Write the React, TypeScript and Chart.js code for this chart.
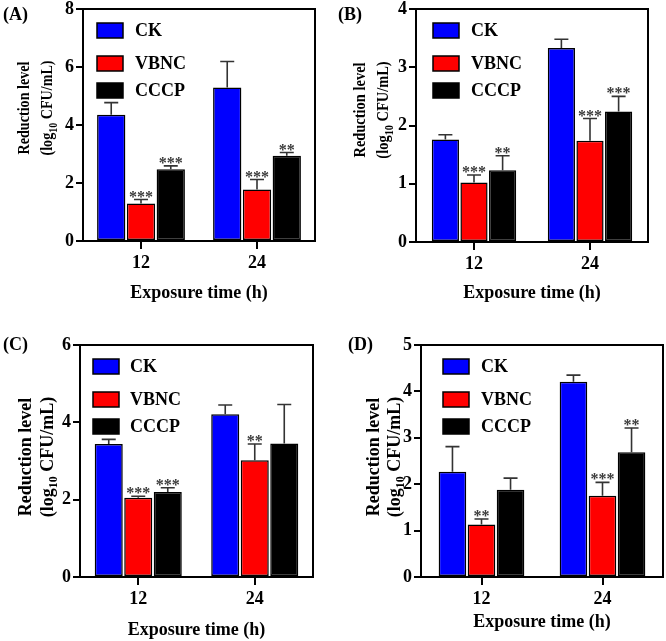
import React, { useEffect, useRef } from 'react';
import { Chart, registerables } from 'chart.js';

Chart.register(...registerables);

// ---------- data ----------
const categories = ['12', '24'];
const seriesNames = ['CK', 'VBNC', 'CCCP'];
const seriesColors = ['#0000FF', '#FF0000', '#000000'];
const panelLabels = ['(A)', '(B)', '(C)', '(D)'];
const xTitle = 'Exposure time (h)';
const yTitleLine1 = 'Reduction level';
const yTitleLine2 = ['(log', '10', ' CFU/mL)'];

// Panel A
const ckA = [4.35, 5.29];
const ckErrA = [0.42, 0.9];
const vbncA = [1.29, 1.78];
const vbncErrA = [0.14, 0.34];
const cccpA = [2.47, 2.94];
const cccpErrA = [0.12, 0.11];
const ckStarsA = ['', ''];
const vbncStarsA = ['***', '***'];
const cccpStarsA = ['***', '**'];
const yMaxA = 8;
const yStepA = 2;

// Panel B
const ckB = [1.76, 3.33];
const ckErrB = [0.08, 0.15];
const vbncB = [1.02, 1.74];
const vbncErrB = [0.13, 0.38];
const cccpB = [1.23, 2.24];
const cccpErrB = [0.25, 0.26];
const ckStarsB = ['', ''];
const vbncStarsB = ['***', '***'];
const cccpStarsB = ['**', '***'];
const yMaxB = 4;
const yStepB = 1;

// Panel C
const ckC = [3.44, 4.21];
const ckErrC = [0.12, 0.24];
const vbncC = [2.05, 3.02];
const vbncErrC = [0.04, 0.42];
const cccpC = [2.2, 3.45];
const cccpErrC = [0.11, 1.01];
const ckStarsC = ['', ''];
const vbncStarsC = ['***', '**'];
const cccpStarsC = ['***', ''];
const yMaxC = 6;
const yStepC = 2;

// Panel D
const ckD = [2.27, 4.21];
const ckErrD = [0.54, 0.14];
const vbncD = [1.13, 1.75];
const vbncErrD = [0.12, 0.29];
const cccpD = [1.88, 2.69];
const cccpErrD = [0.25, 0.52];
const ckStarsD = ['', ''];
const vbncStarsD = ['**', '***'];
const cccpStarsD = ['', '**'];
const yMaxD = 5;
const yStepD = 1;

const FONT = "'Liberation Serif', 'Times New Roman', serif";

type Panel = {
  label: string;
  values: number[][];
  errs: number[][];
  stars: string[][];
  yMax: number;
  yStep: number;
  cx: number; cy: number; w: number; h: number;
  L: number; R: number; T: number; B: number;
  catPct: number;
  legendDx: number;
  legendTextDx: number;
  yTitleSize: number;
  yTitleStretch: number;
  yT1x: number; yT2x: number; yTcy: number;
  xTitleY: number;
  labelX: number; labelY: number;
};

const panels: Panel[] = [
  {
    label: panelLabels[0],
    values: [ckA, vbncA, cccpA], errs: [ckErrA, vbncErrA, cccpErrA], stars: [ckStarsA, vbncStarsA, cccpStarsA],
    yMax: yMaxA, yStep: yStepA,
    cx: 0, cy: 0, w: 333, h: 320, L: 83, R: 315, T: 9, B: 241, catPct: 0.77,
    legendDx: 14, legendTextDx: 38, yTitleSize: 17, yTitleStretch: 0.83, yT1x: 25, yT2x: 48, yTcy: 108, xTitleY: 293, labelX: 3, labelY: 15,
  },
  {
    label: panelLabels[1],
    values: [ckB, vbncB, cccpB], errs: [ckErrB, vbncErrB, cccpErrB], stars: [ckStarsB, vbncStarsB, cccpStarsB],
    yMax: yMaxB, yStep: yStepB,
    cx: 333, cy: 0, w: 333, h: 320, L: 83, R: 315, T: 9, B: 242, catPct: 0.74,
    legendDx: 17, legendTextDx: 38, yTitleSize: 17, yTitleStretch: 0.85, yT1x: 28, yT2x: 51, yTcy: 110, xTitleY: 293, labelX: 5, labelY: 15,
  },
  {
    label: panelLabels[2],
    values: [ckC, vbncC, cccpC], errs: [ckErrC, vbncErrC, cccpErrC], stars: [ckStarsC, vbncStarsC, cccpStarsC],
    yMax: yMaxC, yStep: yStepC,
    cx: 0, cy: 320, w: 333, h: 321, L: 80, R: 313, T: 25, B: 257, catPct: 0.76,
    legendDx: 13, legendTextDx: 37, yTitleSize: 18, yTitleStretch: 1, yT1x: 26, yT2x: 48, yTcy: 137, xTitleY: 310, labelX: 3, labelY: 25,
  },
  {
    label: panelLabels[3],
    values: [ckD, vbncD, cccpD], errs: [ckErrD, vbncErrD, cccpErrD], stars: [ckStarsD, vbncStarsD, cccpStarsD],
    yMax: yMaxD, yStep: yStepD,
    cx: 333, cy: 320, w: 333, h: 321, L: 88, R: 330, T: 25, B: 257, catPct: 0.72,
    legendDx: 22, legendTextDx: 38, yTitleSize: 18, yTitleStretch: 1, yT1x: 41, yT2x: 62, yTcy: 137, xTitleY: 302, labelX: 15, labelY: 25,
  },
];

function makeDecor(p: Panel) {
  return {
    id: 'decor',
    afterDatasetsDraw(chart: any) {
      const ctx = chart.ctx;
      const ys = chart.scales.y;
      chart.data.datasets.forEach((ds: any, i: number) => {
        const meta = chart.getDatasetMeta(i);
        meta.data.forEach((el: any, j: number) => {
          const v = ds.data[j];
          const e = p.errs[i][j];
          const yTop = ys.getPixelForValue(v + e);
          const x = el.x;
          ctx.save();
          ctx.strokeStyle = '#333';
          ctx.lineWidth = 1.6;
          ctx.beginPath();
          ctx.moveTo(x, el.y);
          ctx.lineTo(x, yTop);
          ctx.moveTo(x - 7, yTop);
          ctx.lineTo(x + 7, yTop);
          ctx.stroke();
          const s = p.stars[i][j];
          if (s) {
            ctx.fillStyle = '#3a3a3a';
            ctx.font = `bold 16px ${FONT}`;
            ctx.textAlign = 'center';
            ctx.textBaseline = 'alphabetic';
            ctx.fillText(s, x, yTop + 2);
          }
          ctx.restore();
        });
      });
    },
    afterDraw(chart: any) {
      const ctx = chart.ctx;
      const a = chart.chartArea;
      ctx.save();
      // frame top & right
      ctx.strokeStyle = '#000';
      ctx.lineWidth = 2;
      ctx.beginPath();
      ctx.moveTo(a.left - 1, a.top);
      ctx.lineTo(a.right, a.top);
      ctx.lineTo(a.right, a.bottom + 1);
      ctx.stroke();

      // legend
      const rowOffsets = [14, 47, 74];
      const bx = a.left + p.legendDx;
      seriesNames.forEach((name, i) => {
        const by = a.top + rowOffsets[i];
        ctx.fillStyle = seriesColors[i];
        ctx.fillRect(bx, by, 26, 15);
        ctx.strokeStyle = '#000';
        ctx.lineWidth = 1.5;
        ctx.strokeRect(bx, by, 26, 15);
        ctx.fillStyle = '#000';
        ctx.font = `bold 18px ${FONT}`;
        ctx.textAlign = 'left';
        ctx.textBaseline = 'middle';
        ctx.fillText(name, bx + p.legendTextDx, by + 8);
      });

      // x title
      ctx.fillStyle = '#000';
      ctx.font = `bold 18px ${FONT}`;
      ctx.textAlign = 'center';
      ctx.textBaseline = 'middle';
      ctx.fillText(xTitle, (a.left + a.right) / 2, p.xTitleY);

      // panel label
      ctx.textAlign = 'left';
      ctx.fillText(p.label, p.labelX, p.labelY);

      // y title line 1
      const fs = p.yTitleSize;
      ctx.save();
      ctx.translate(p.yT1x, p.yTcy);
      ctx.rotate(-Math.PI / 2);
      ctx.scale(p.yTitleStretch, 1);
      ctx.font = `bold ${fs}px ${FONT}`;
      ctx.textAlign = 'center';
      ctx.textBaseline = 'middle';
      ctx.fillText(yTitleLine1, 0, 0);
      ctx.restore();

      // y title line 2 with subscript
      ctx.save();
      ctx.translate(p.yT2x, p.yTcy);
      ctx.rotate(-Math.PI / 2);
      ctx.scale(p.yTitleStretch, 1);
      ctx.textAlign = 'left';
      ctx.textBaseline = 'middle';
      const mainFont = `bold ${fs}px ${FONT}`;
      const subFont = `bold ${Math.round(fs * 0.68)}px ${FONT}`;
      ctx.font = mainFont;
      const w0 = ctx.measureText(yTitleLine2[0]).width;
      const w2 = ctx.measureText(yTitleLine2[2]).width;
      ctx.font = subFont;
      const w1 = ctx.measureText(yTitleLine2[1]).width;
      let x0 = -(w0 + w1 + w2) / 2;
      ctx.font = mainFont;
      ctx.fillText(yTitleLine2[0], x0, 0);
      x0 += w0;
      ctx.font = subFont;
      ctx.fillText(yTitleLine2[1], x0, fs * 0.35);
      x0 += w1;
      ctx.font = mainFont;
      ctx.fillText(yTitleLine2[2], x0, 0);
      ctx.restore();

      ctx.restore();
    },
  };
}

function PanelChart({ p }: { p: Panel }) {
  const ref = useRef<HTMLCanvasElement | null>(null);
  useEffect(() => {
    if (!ref.current) return;
    const chart = new Chart(ref.current, {
      type: 'bar',
      data: {
        labels: categories,
        datasets: seriesNames.map((name, i) => ({
          label: name,
          data: p.values[i],
          backgroundColor: seriesColors[i],
          borderColor: '#000',
          borderWidth: 1.5,
          borderSkipped: false as any,
          categoryPercentage: p.catPct,
          barPercentage: 0.95,
        })),
      },
      options: {
        animation: false,
        responsive: false,
        devicePixelRatio: 1,
        layout: { padding: { left: 0, top: p.T, right: p.w - p.R, bottom: 0 } },
        plugins: { legend: { display: false }, tooltip: { enabled: false } },
        scales: {
          x: {
            type: 'category',
            offset: true,
            grid: { display: true, drawOnChartArea: false, drawTicks: true, tickLength: 8, lineWidth: 2, color: '#000', offset: false },
            border: { display: true, width: 2, color: '#000' },
            ticks: { color: '#000', font: { family: FONT, size: 18, weight: 'bold' }, padding: 4, maxRotation: 0 },
            afterFit: (s: any) => {
              s.height = p.h - p.B;
              s.paddingLeft = 0; s.paddingRight = 0; s.paddingTop = 0; s.paddingBottom = 0;
            },
          },
          y: {
            min: 0,
            max: p.yMax,
            grid: { display: true, drawOnChartArea: false, drawTicks: true, tickLength: 7, lineWidth: 2, color: '#000' },
            border: { display: true, width: 2, color: '#000' },
            ticks: { stepSize: p.yStep, color: '#000', font: { family: FONT, size: 18, weight: 'bold' }, padding: 2 },
            afterFit: (s: any) => {
              s.width = p.L;
              s.paddingLeft = 0; s.paddingRight = 0; s.paddingTop = 0; s.paddingBottom = 0;
            },
          },
        },
      } as any,
      plugins: [makeDecor(p)],
    });
    return () => chart.destroy();
  }, [p]);
  return (
    <canvas
      ref={ref}
      width={p.w}
      height={p.h}
      style={{ position: 'absolute', left: p.cx, top: p.cy, width: p.w, height: p.h, display: 'block' }}
    />
  );
}

export default function App() {
  return (
    <div style={{ position: 'absolute', left: 0, top: 0, width: 666, height: 641, background: '#fff' }}>
      {panels.map((p) => (
        <PanelChart key={p.label} p={p} />
      ))}
    </div>
  );
}
